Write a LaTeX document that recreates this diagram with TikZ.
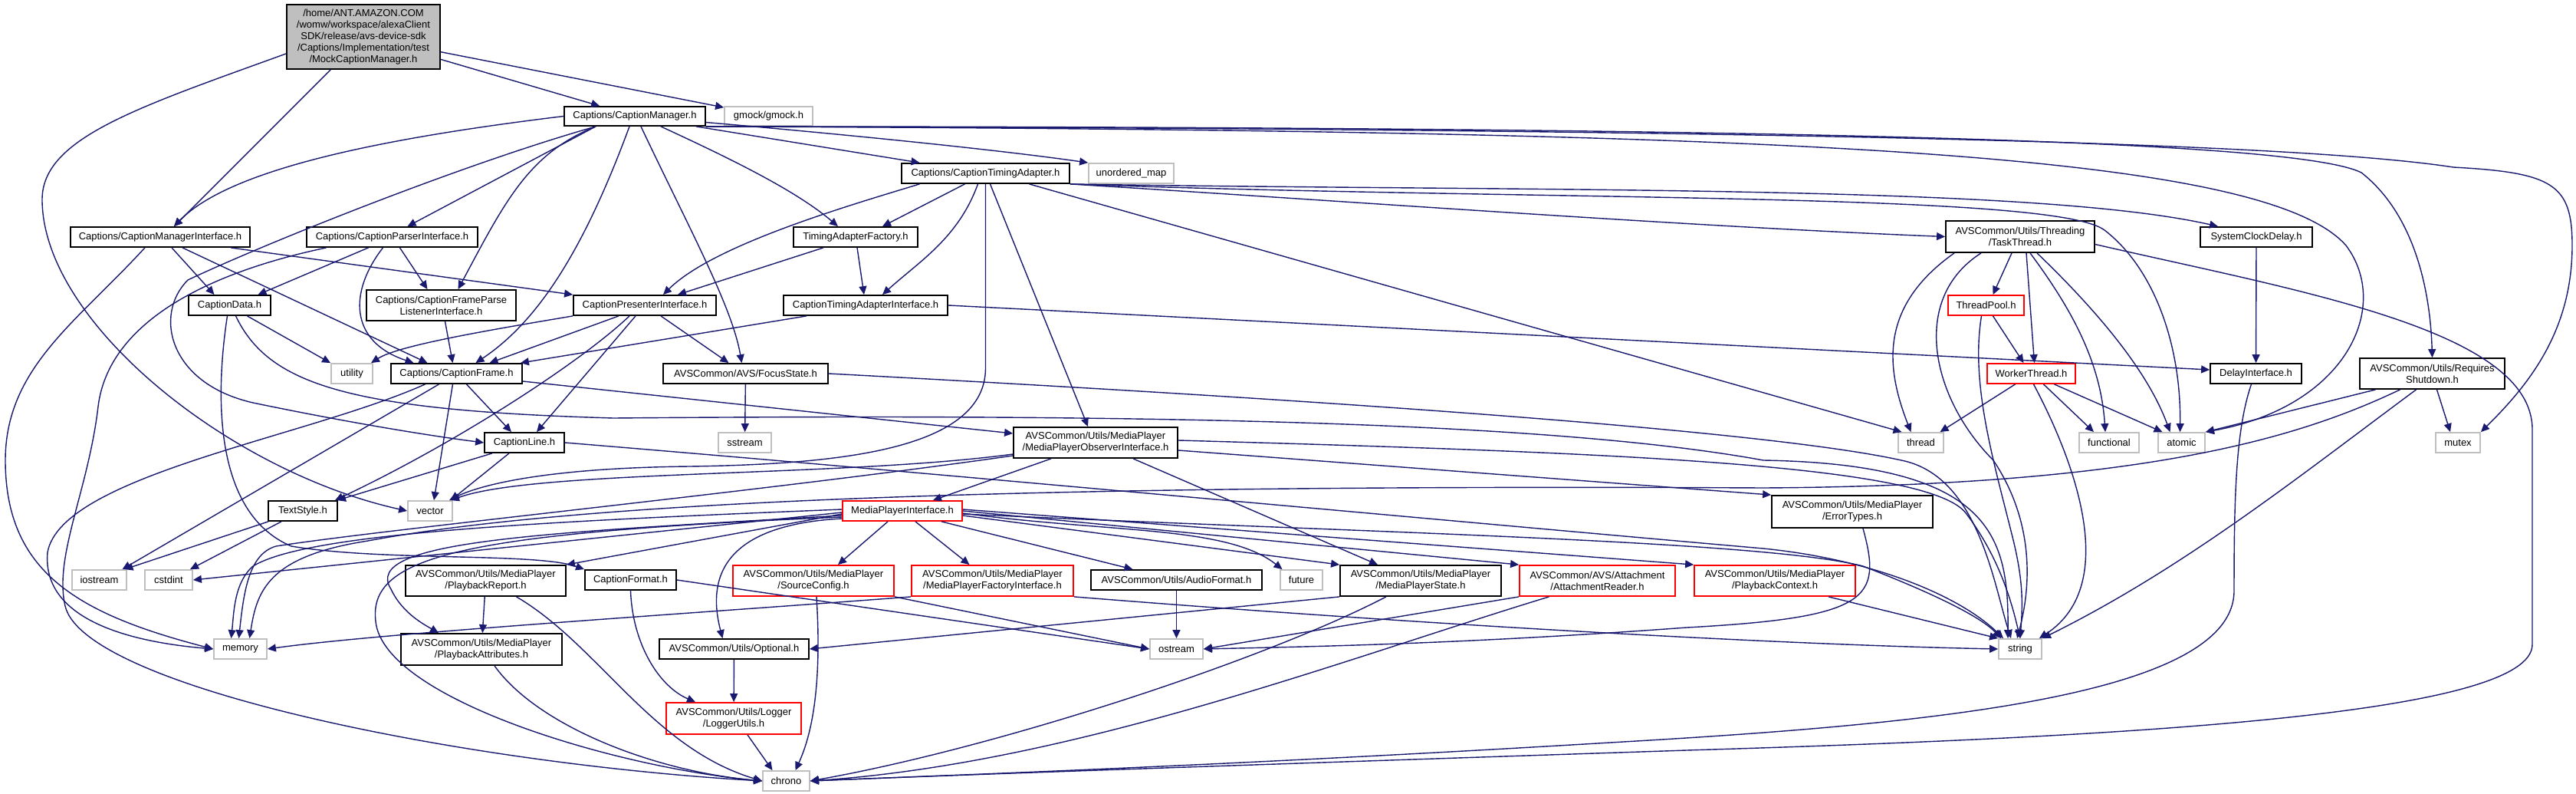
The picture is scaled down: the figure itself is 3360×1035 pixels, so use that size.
\documentclass[tikz,border=0pt]{standalone}
\usepackage{fontspec}
\setmainfont{Liberation Sans}
\usetikzlibrary{arrows.meta}
\definecolor{edgec}{HTML}{191970}
\definecolor{grayb}{HTML}{BFBFBF}
\newcommand{\mkbox}[7]{\node[#1,minimum width=#5pt,minimum height=#6pt] (#2) at (#3,#4) {#7};}
\tikzset{
 nb/.style={draw=black, line width=1.8pt, fill=white, inner sep=0pt, align=center, font=\fontsize{13}{15}\selectfont, text=black},
 ng/.style={nb, draw=grayb},
 nr/.style={nb, draw=red},
 nroot/.style={nb, fill=grayb},
 edg/.style={draw=edgec, line width=1.4pt, -{Triangle[length=11pt,width=10pt]}},
}
\begin{document}
\begin{tikzpicture}[x=1pt,y=-1pt]
\fill[white] (0,0) rectangle (3360,1035);
\useasboundingbox (0,0) rectangle (3360,1035);
% nodes
\mkbox{nroot}{root}{474}{48}{200}{84}{/home/ANT.AMAZON.COM\\/womw/workspace/alexaClient\\SDK/release/avs-device-sdk\\/Captions/Implementation/test\\/MockCaptionManager.h}
\mkbox{nb}{CM}{828}{151.5}{184}{25}{Captions/CaptionManager.h}
\mkbox{ng}{gmock}{1002.5}{151.5}{115}{25}{gmock/gmock.h}
\mkbox{nb}{CTA}{1285.5}{226}{219}{26}{Captions/CaptionTimingAdapter.h}
\mkbox{ng}{umap}{1475.5}{226}{111}{26}{unordered\_map}
\mkbox{nb}{CMI}{209}{309}{234}{26}{Captions/CaptionManagerInterface.h}
\mkbox{nb}{CPaI}{511.5}{309}{223}{26}{Captions/CaptionParserInterface.h}
\mkbox{nb}{TAF}{1116}{309}{162}{26}{TimingAdapterFactory.h}
\mkbox{nb}{TT}{2635}{308.5}{194}{41}{AVSCommon/Utils/Threading\\/TaskThread.h}
\mkbox{nb}{SCD}{2943}{309}{146}{26}{SystemClockDelay.h}
\mkbox{nb}{CD}{299.5}{398}{107}{26}{CaptionData.h}
\mkbox{nb}{CFPLI}{575.5}{398}{195}{40}{Captions/CaptionFrameParse\\ListenerInterface.h}
\mkbox{nb}{CPI}{841}{398}{186}{26}{CaptionPresenterInterface.h}
\mkbox{nb}{CTAI}{1129}{398}{214}{26}{CaptionTimingAdapterInterface.h}
\mkbox{nr}{TP}{2590.5}{398}{99}{26}{ThreadPool.h}
\mkbox{ng}{util}{459}{487}{54}{26}{utility}
\mkbox{nb}{CFr}{595.5}{487}{171}{26}{Captions/CaptionFrame.h}
\mkbox{nb}{Focus}{972.5}{487}{215}{26}{AVSCommon/AVS/FocusState.h}
\mkbox{nr}{WT}{2649.5}{487}{115}{26}{WorkerThread.h}
\mkbox{nb}{DI}{2942.5}{487}{119}{26}{DelayInterface.h}
\mkbox{nb}{RS}{3172.5}{487}{189}{40}{AVSCommon/Utils/Requires\\Shutdown.h}
\mkbox{ng}{thread}{2505.5}{577}{59}{26}{thread}
\mkbox{ng}{functional}{2751}{577}{78}{26}{functional}
\mkbox{ng}{atomic}{2845.5}{577}{61}{26}{atomic}
\mkbox{ng}{mutex}{3206}{577}{58}{26}{mutex}
\mkbox{nb}{CL}{684}{577}{104}{26}{CaptionLine.h}
\mkbox{ng}{sstream}{971.5}{577}{69}{26}{sstream}
\mkbox{nb}{MPOI}{1429}{577}{214}{40}{AVSCommon/Utils/MediaPlayer\\/MediaPlayerObserverInterface.h}
\mkbox{nb}{TS}{395}{666}{90}{26}{TextStyle.h}
\mkbox{ng}{vector}{561}{666}{58}{26}{vector}
\mkbox{nr}{MPI}{1177}{666}{156}{26}{MediaPlayerInterface.h}
\mkbox{nb}{ET}{2416}{667}{210}{42}{AVSCommon/Utils/MediaPlayer\\/ErrorTypes.h}
\mkbox{ng}{iostream}{129.5}{756}{71}{26}{iostream}
\mkbox{ng}{cstdint}{220}{756}{62}{26}{cstdint}
\mkbox{nb}{PR}{633.5}{757}{209}{40}{AVSCommon/Utils/MediaPlayer\\/PlaybackReport.h}
\mkbox{nb}{CFmt}{822.5}{756}{119}{26}{CaptionFormat.h}
\mkbox{nr}{SC}{1061}{757}{210}{40}{AVSCommon/Utils/MediaPlayer\\/SourceConfig.h}
\mkbox{nr}{MPFI}{1294.5}{757}{211}{40}{AVSCommon/Utils/MediaPlayer\\/MediaPlayerFactoryInterface.h}
\mkbox{nb}{AF}{1534.5}{756}{223}{26}{AVSCommon/Utils/AudioFormat.h}
\mkbox{ng}{future}{1697.5}{756}{55}{26}{future}
\mkbox{nb}{MPS}{1853}{757}{210}{40}{AVSCommon/Utils/MediaPlayer\\/MediaPlayerState.h}
\mkbox{nr}{AR}{2083.5}{757}{203}{40}{AVSCommon/AVS/Attachment\\/AttachmentReader.h}
\mkbox{nr}{PC}{2315}{757}{210}{40}{AVSCommon/Utils/MediaPlayer\\/PlaybackContext.h}
\mkbox{ng}{memory}{313.5}{846}{69}{26}{memory}
\mkbox{nb}{PA}{628}{846.5}{210}{41}{AVSCommon/Utils/MediaPlayer\\/PlaybackAttributes.h}
\mkbox{nb}{Opt}{957.5}{846}{195}{26}{AVSCommon/Utils/Optional.h}
\mkbox{ng}{ostream}{1534.5}{846}{69}{26}{ostream}
\mkbox{ng}{string}{2635}{846}{56}{26}{string}
\mkbox{nr}{LU}{957}{936.5}{176}{41}{AVSCommon/Utils/Logger\\/LoggerUtils.h}
\mkbox{ng}{chrono}{1025.5}{1018}{61}{26}{chrono}
% root
\draw[edg] (root) -- (CM);
\draw[edg] (root) -- (gmock);
\draw[edg] (root) -- ([xshift=18pt]CMI.north);
\draw[edg] ([yshift=-22pt]root.west) .. controls (180,140) and (55,180) .. (55,260) .. controls (55,420) and (300,615) .. (vector.west);
% CM
\draw[edg] (CM.west) .. controls (500,180) and (300,220) .. ([xshift=18pt]CMI.north);
\draw[edg] ([xshift=-51pt]CM.south) -- ([xshift=20pt]CPaI.north);
\draw[edg] ([xshift=-51pt]CM.south) .. controls (690,200) and (660,260) .. ([xshift=22pt]CFPLI.north);
\draw[edg] ([xshift=-7pt]CM.south) .. controls (760,330) and (700,420) .. ([xshift=25pt]CFr.north);
\draw[edg] ([xshift=8pt]CM.south) .. controls (900,300) and (955,400) .. ([xshift=-5pt]Focus.north);
\draw[edg] ([xshift=34pt]CM.south) .. controls (960,210) and (1040,250) .. ([xshift=-23pt]TAF.north);
\draw[edg] ([xshift=80pt]CM.south) -- ([xshift=-86pt]CTA.north);
\draw[edg] ([yshift=-8pt]CM.east) .. controls (1100,175) and (1300,195) .. (umap.north west);
\draw[edg] ([xshift=-51pt]CM.south) .. controls (600,215) and (340,320) .. (245,365) .. controls (200,410) and (220,500) .. (330,525) .. controls (450,550) and (560,568) .. (CL.west);
\draw[edg] (CM.south east) .. controls (2300,170) and (2950,195) .. (3060,320) .. controls (3120,400) and (3060,530) .. (atomic.north east);
\draw[edg] (CM.south east) .. controls (2600,168) and (3050,195) .. (3200,218) .. controls (3330,225) and (3355,240) .. (3355,320) .. controls (3355,430) and (3300,500) .. (mutex.north east);
\draw[edg] (CM.south east) .. controls (2400,165) and (3000,185) .. (3080,225) .. controls (3150,280) and (3170,380) .. (RS.north);
% CTA
\draw[edg] ([xshift=-86pt]CTA.south) .. controls (1100,270) and (930,320) .. ([xshift=24pt]CPI.north);
\draw[edg] ([xshift=-27pt]CTA.south) -- ([xshift=35pt]TAF.north);
\draw[edg] ([xshift=-10pt]CTA.south) .. controls (1250,310) and (1200,340) .. ([xshift=22pt]CTAI.north);
\draw[edg] (CTA.south) -- (1285.5,480) .. controls (1285,585) and (1100,605) .. (900,608) .. controls (700,610) and (620,635) .. ([xshift=25pt]vector.north);
\draw[edg] ([xshift=6pt]CTA.south) -- ([xshift=-10pt]MPOI.north);
\draw[edg] ([xshift=57pt]CTA.south) -- ([xshift=-25pt]thread.north);
\draw[edg] (CTA.south east) .. controls (1800,265) and (2200,295) .. (TT.west);
\draw[edg] (CTA.south east) .. controls (2000,250) and (2650,240) .. ([xshift=-50pt]SCD.north);
\draw[edg] (CTA.south east) .. controls (2000,262) and (2680,250) .. (2745,300) .. controls (2810,350) and (2845,450) .. ([xshift=-2pt]atomic.north);
% TAF
\draw[edg] ([xshift=-42pt]TAF.south) -- ([xshift=43pt]CPI.north);
\draw[edg] (TAF) -- (CTAI);
% CMI
\draw[edg] ([xshift=15pt]CMI.south) -- ([xshift=-20pt]CD.north);
\draw[edg] ([xshift=29pt]CMI.south) -- ([xshift=-38pt]CFr.north);
\draw[edg] ([xshift=92pt]CMI.south) -- (CPI.north west);
\draw[edg] ([xshift=-20pt]CMI.south) .. controls (100,420) and (7,480) .. (7,600) .. controls (7,745) and (100,800) .. (memory.west);
% CPaI
\draw[edg] ([xshift=-31pt]CPaI.south) -- ([xshift=37pt]CD.north);
\draw[edg] ([xshift=10pt]CPaI.south) -- ([xshift=-18pt]CFPLI.north);
\draw[edg] ([xshift=-12pt]CPaI.south) .. controls (455,380) and (455,445) .. ([xshift=-56pt]CFr.north);
\draw[edg] ([xshift=-86pt]CPaI.south) .. controls (250,360) and (140,430) .. (128,530) .. controls (115,640) and (70,725) .. (85,790) .. controls (110,895) and (600,995) .. (chrono.west);
% CaptionData
\draw[edg] ([xshift=23pt]CD.south) -- (util.north west);
\draw[edg] ([xshift=-3pt]CD.south) .. controls (280,520) and (280,670) .. (380,712) .. controls (500,732) and (700,720) .. (CFmt.north west);
\draw[edg] ([xshift=8pt]CD.south) .. controls (350,500) and (450,535) .. (800,545) .. controls (1400,540) and (2000,545) .. (2300,600) .. controls (2600,605) and (2620,700) .. ([xshift=-16pt]string.north);
% CFPLI
\draw[edg] ([xshift=5pt]CFPLI.south) -- ([xshift=-5pt]CFr.north);
% CPI
\draw[edg] (CPI.south west) .. controls (640,430) and (520,450) .. ([xshift=25pt]util.north);
\draw[edg] ([xshift=-34pt]CPI.south) -- ([xshift=43pt]CFr.north);
\draw[edg] ([xshift=-20pt]CPI.south) .. controls (760,470) and (600,575) .. ([xshift=42pt]TS.north);
\draw[edg] ([xshift=-12pt]CPI.south) -- ([xshift=16pt]CL.north);
\draw[edg] ([xshift=21pt]CPI.south) -- ([xshift=-22pt]Focus.north);
% CTAI
\draw[edg] ([xshift=-77pt]CTAI.south) -- ([xshift=-3pt]CFr.north east);
\draw[edg] (CTAI.east) -- ([yshift=5pt]DI.west);
% Focus
\draw[edg] (Focus) -- (sstream);
\draw[edg] (Focus.east) .. controls (1700,520) and (2300,560) .. (2480,600) .. controls (2580,620) and (2600,760) .. ([xshift=-12pt]string.north);
% SCD
\draw[edg] (SCD) -- (DI);
% CaptionFrame
\draw[edg] ([xshift=-41pt]CFr.south) .. controls (400,570) and (80,620) .. (62,720) .. controls (55,800) and (150,835) .. (memory.west);
\draw[edg] ([xshift=-23pt]CFr.south) -- ([xshift=30pt]iostream.north);
\draw[edg] ([xshift=-5pt]CFr.south) -- ([xshift=5pt]vector.north);
\draw[edg] ([xshift=13pt]CFr.south) -- ([xshift=-17pt]CL.north);
\draw[edg] ([yshift=-10pt]CFr.east) -- ([yshift=12pt]MPOI.west);
% CaptionLine
\draw[edg] ([xshift=-42pt]CL.south) -- ([xshift=45pt]TS.north);
\draw[edg] ([xshift=-20pt]CL.south) -- ([xshift=27pt]vector.north);
\draw[edg] (CL.east) .. controls (1200,615) and (1900,680) .. (2300,715) .. controls (2450,730) and (2560,780) .. ([xshift=-22pt]string.north);
% TextStyle
\draw[edg] ([xshift=-45pt]TS.south) -- ([xshift=33pt]iostream.north);
\draw[edg] ([xshift=-28pt]TS.south) -- ([xshift=28pt]cstdint.north);
% MPOI
\draw[edg] ([xshift=-58pt]MPOI.south) -- ([xshift=40pt]MPI.north);
\draw[edg] ([xshift=49pt]MPOI.south) -- ([xshift=-56pt]MPS.north);
\draw[edg] ([yshift=-10pt]MPOI.east) -- (ET.north west);
\draw[edg] ([yshift=3pt]MPOI.east) .. controls (2100,590) and (2520,605) .. (2565,670) .. controls (2610,730) and (2625,790) .. (string.north);
\draw[edg] ([yshift=-15pt]MPOI.west) .. controls (1100,622) and (700,612) .. ([xshift=27pt]vector.north);
\draw[edg] ([yshift=-17pt]MPOI.west) .. controls (1000,640) and (500,690) .. (360,712) .. controls (325,722) and (318,770) .. ([xshift=-2pt]memory.north);
% MPI
\draw[edg] ([xshift=-19pt]MPI.south) -- ([xshift=32pt]SC.north);
\draw[edg] ([xshift=17pt]MPI.south) -- ([xshift=-30pt]MPFI.north);
\draw[edg] ([xshift=51pt]MPI.south) -- ([xshift=-57pt]AF.north);
\draw[edg] ([yshift=-3pt]MPI.east) .. controls (1450,695) and (1600,685) .. ([xshift=-25pt]future.north);
\draw[edg] ([yshift=-6pt]MPI.east) -- (MPS.north west);
\draw[edg] (MPI.east) -- (AR.north west);
\draw[edg] ([yshift=2pt]MPI.east) -- (PC.north west);
\draw[edg] ([yshift=-4pt]MPI.east) .. controls (1800,695) and (2300,705) .. (2430,738) .. controls (2500,765) and (2580,800) .. ([xshift=-25pt]string.north);
\draw[edg] ([yshift=2pt]MPI.west) .. controls (700,680) and (400,695) .. (330,738) .. controls (305,760) and (305,800) .. ([xshift=-12pt]memory.north);
\draw[edg] ([yshift=-2pt]MPI.west) -- (cstdint.east);
\draw[edg] ([yshift=-4pt]MPI.west) -- (PR.north east);
\draw[edg] ([yshift=-6pt]MPI.west) .. controls (700,695) and (470,705) .. (510,768) .. controls (525,800) and (555,815) .. ([xshift=-56pt]PA.north);
\draw[edg] ([yshift=-8pt]MPI.west) .. controls (600,695) and (480,725) .. (490,810) .. controls (500,910) and (800,1000) .. (chrono.west);
\draw[edg] ([yshift=-10pt]MPI.west) .. controls (930,685) and (925,765) .. ([xshift=-15pt]Opt.north);
% PlaybackReport / Attributes
\draw[edg] (PR) -- (PA);
\draw[edg] ([xshift=40pt]PR.south) .. controls (780,840) and (850,975) .. (chrono.west);
\draw[edg] ([xshift=17pt]PA.south) .. controls (700,945) and (850,1005) .. (chrono.west);
% CaptionFormat
\draw[edg] (CFmt.south) .. controls (825,840) and (860,895) .. ([xshift=-50pt]LU.north);
\draw[edg] (CFmt.east) -- (ostream.west);
% Optional, Logger
\draw[edg] (Opt) -- (LU);
\draw[edg] ([xshift=18pt]LU.south) -- ([xshift=-18pt]chrono.north);
% SourceConfig
\draw[edg] ([xshift=4pt]SC.south) .. controls (1072,890) and (1060,955) .. ([xshift=12pt]chrono.north);
\draw[edg] (SC.south east) -- (ostream.west);
% MPFI
\draw[edg] (MPFI.south west) .. controls (900,800) and (500,825) .. (memory.east);
\draw[edg] (MPFI.south east) .. controls (1800,810) and (2300,840) .. (string.west);
% AudioFormat
\draw[edg] (AF) -- (ostream);
% MediaPlayerState
\draw[edg] (MPS.south west) -- (Opt.east);
\draw[edg] ([xshift=-45pt]MPS.south) .. controls (1650,860) and (1300,975) .. (chrono.east);
% AttachmentReader
\draw[edg] (AR.south west) -- (ostream.east);
\draw[edg] ([xshift=-63pt]AR.south) .. controls (1750,860) and (1400,995) .. (chrono.east);
% PlaybackContext
\draw[edg] ([xshift=70pt]PC.south) -- (string.north west);
% ErrorTypes
\draw[edg] ([xshift=14pt]ET.south) .. controls (2455,780) and (2440,805) .. (2200,818) .. controls (1900,840) and (1700,843) .. (ostream.east);
% TaskThread
\draw[edg] ([xshift=-11pt]TT.south) -- ([xshift=9pt]TP.north);
\draw[edg] ([xshift=8pt]TT.south) -- ([xshift=4pt]WT.north);
\draw[edg] ([xshift=-86pt]TT.south) .. controls (2450,400) and (2460,480) .. ([xshift=-13pt]thread.north);
\draw[edg] ([xshift=-51pt]TT.south) .. controls (2490,390) and (2520,520) .. (2600,600) .. controls (2660,690) and (2645,780) .. ([xshift=-4pt]string.north);
\draw[edg] ([xshift=13pt]TT.south) .. controls (2700,400) and (2740,470) .. ([xshift=-5pt]functional.north);
\draw[edg] ([xshift=22pt]TT.south) .. controls (2730,400) and (2800,480) .. ([xshift=-15pt]atomic.north);
\draw[edg] ([yshift=-10pt]TT.east) .. controls (3000,380) and (3303,430) .. (3303,560) -- (3303,840) .. controls (3303,930) and (2800,960) .. (2200,978) .. controls (1600,998) and (1250,1010) .. (chrono.east);
% ThreadPool
\draw[edg] ([xshift=9pt]TP.south) -- ([xshift=-10pt]WT.north);
\draw[edg] ([xshift=-6pt]TP.south) .. controls (2570,500) and (2600,600) .. (2625,700) .. controls (2640,760) and (2638,790) .. (string.north);
% WorkerThread
\draw[edg] ([xshift=-21pt]WT.south) -- ([xshift=25pt]thread.north);
\draw[edg] ([xshift=16pt]WT.south) -- ([xshift=-20pt]functional.north);
\draw[edg] ([xshift=30pt]WT.south) -- ([xshift=-25pt]atomic.north);
\draw[edg] ([xshift=3pt]WT.south) .. controls (2700,590) and (2770,760) .. ([xshift=-4pt]string.north east);
% DelayInterface
\draw[edg] ([xshift=-6pt]DI.south) .. controls (2916,560) and (2914,650) .. (2914,770) .. controls (2914,910) and (2500,945) .. (2100,968) .. controls (1600,998) and (1250,1010) .. (chrono.east);
% RequiresShutdown
\draw[edg] ([xshift=-74pt]RS.south) -- (atomic.north east);
\draw[edg] ([xshift=6pt]RS.south) -- ([xshift=-10pt]mutex.north);
\draw[edg] ([xshift=-21pt]RS.south) .. controls (3000,620) and (2850,740) .. (string.north east);
\draw[edg] ([xshift=-42pt]RS.south) .. controls (3000,570) and (2800,633) .. (2300,636) .. controls (1500,632) and (800,645) .. (480,705) .. controls (350,725) and (335,770) .. ([xshift=12pt]memory.north);
\end{tikzpicture}
\end{document}
